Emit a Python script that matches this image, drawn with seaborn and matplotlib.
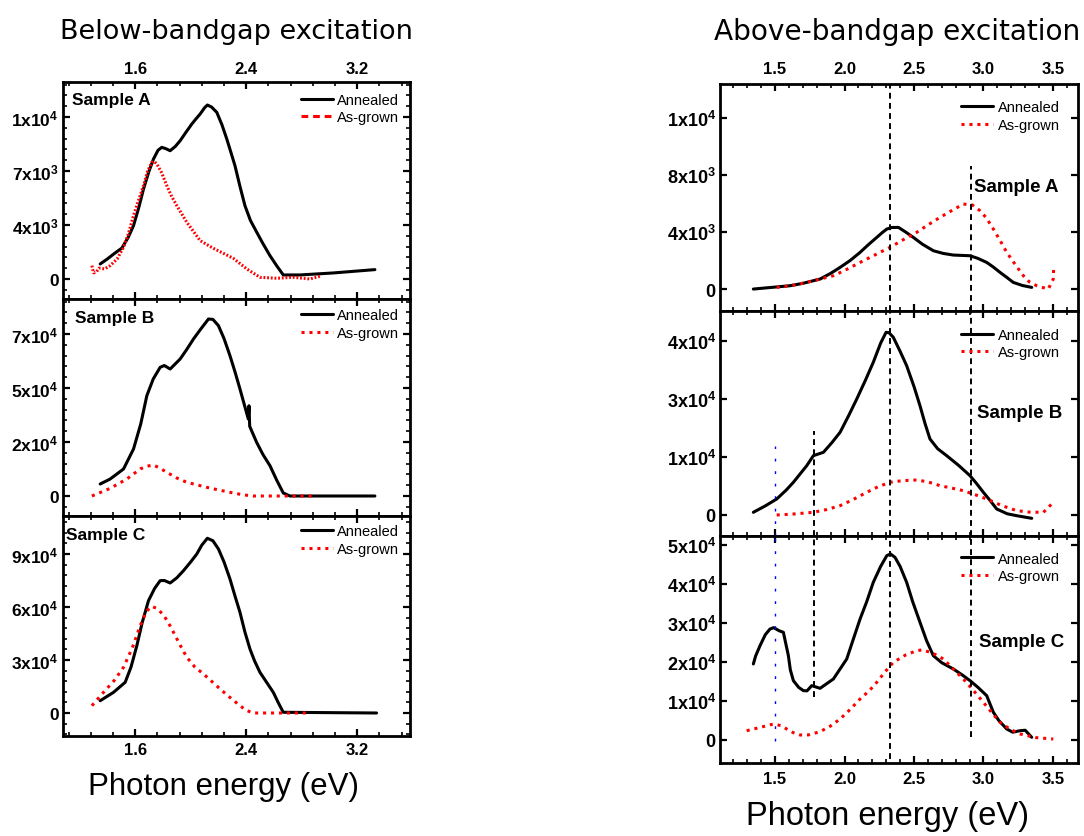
import matplotlib
matplotlib.use('Agg')
import matplotlib.pyplot as plt
import seaborn as sns
from matplotlib.lines import Line2D
from matplotlib.ticker import MultipleLocator, FixedLocator, FixedFormatter, AutoMinorLocator

# ---------------- data ----------------
# Below-bandgap excitation
below_A_ann_x = [1.348, 1.40, 1.45, 1.504, 1.55, 1.588, 1.625, 1.660, 1.70, 1.732, 1.765, 1.792, 1.82, 1.852, 1.89, 1.924, 1.965, 2.008, 2.04, 2.068, 2.10, 2.120, 2.15, 2.188, 2.225, 2.260, 2.29, 2.319, 2.355, 2.391, 2.43, 2.476, 2.52, 2.571, 2.62, 2.667, 2.787, 3.027, 3.327]
below_A_ann_y = [972, 1300, 1650, 2000, 2700, 3456, 4600, 5833, 7000, 7778, 8350, 8533, 8450, 8315, 8600, 8963, 9500, 10046, 10400, 10694, 11100, 11278, 11150, 10802, 10000, 9074, 8200, 7343, 6000, 4750, 3800, 3025, 2300, 1512, 850, 259, 259, 389, 605]
below_A_grw_x = [1.288, 1.300, 1.319, 1.340, 1.380, 1.420, 1.470, 1.516, 1.55, 1.588, 1.62, 1.660, 1.69, 1.720, 1.74, 1.756, 1.79, 1.828, 1.86, 1.900, 1.972, 2.068, 2.163, 2.307, 2.404, 2.499, 2.619, 2.739, 2.859, 2.931]
below_A_grw_y = [864, 400, 432, 700, 650, 864, 1300, 2052, 2900, 4104, 5000, 6050, 7000, 7560, 7600, 7452, 6900, 6050, 5400, 4752, 3672, 2484, 1987, 1339, 648, 108, 43, 108, 0, 173]

below_B_ann_x = [1.348, 1.420, 1.516, 1.588, 1.64, 1.684, 1.73, 1.780, 1.81, 1.852, 1.924, 1.97, 2.020, 2.07, 2.128, 2.16, 2.200, 2.24, 2.283, 2.32, 2.355, 2.415, 2.420, 2.425, 2.475, 2.52, 2.571, 2.62, 2.667, 2.715, 3.327]
below_B_ann_y = [5333, 7556, 12000, 20889, 32000, 44580, 52000, 57200, 58000, 56440, 60890, 65000, 69780, 74000, 78670, 78500, 75700, 70000, 62360, 55000, 47560, 34220, 40130, 31000, 23850, 18500, 13480, 7000, 1333, 0, 0]
below_B_grw_x = [1.288, 1.420, 1.540, 1.636, 1.68, 1.732, 1.78, 1.828, 1.90, 1.972, 2.116, 2.20, 2.307, 2.38, 2.451, 2.871]
below_B_grw_y = [0, 3400, 7556, 12000, 13200, 13780, 12300, 10520, 8000, 6080, 3850, 2700, 1333, 500, 0, 0]

below_C_ann_x = [1.348, 1.444, 1.528, 1.57, 1.612, 1.65, 1.696, 1.74, 1.780, 1.81, 1.852, 1.90, 1.948, 2.00, 2.044, 2.08, 2.120, 2.16, 2.200, 2.24, 2.283, 2.32, 2.355, 2.39, 2.427, 2.46, 2.499, 2.55, 2.595, 2.63, 2.667, 3.339]
below_C_ann_y = [6960, 11700, 17380, 26000, 38100, 51000, 63600, 70500, 74900, 75000, 73580, 76500, 80550, 85500, 90000, 95000, 98900, 97500, 92830, 85500, 75850, 66000, 57000, 46000, 36230, 29500, 23020, 17000, 11700, 6000, 400, 0]
below_C_grw_x = [1.288, 1.372, 1.45, 1.516, 1.58, 1.636, 1.68, 1.720, 1.76, 1.804, 1.84, 1.876, 1.92, 1.972, 2.03, 2.092, 2.15, 2.212, 2.28, 2.355, 2.40, 2.451, 2.859]
below_C_grw_y = [4130, 11700, 18500, 25870, 37000, 49400, 57500, 60380, 59000, 55470, 51000, 45660, 39000, 31530, 26000, 22080, 18000, 13580, 9000, 4150, 1500, 0, 0]

# Above-bandgap excitation
above_A_ann_x = [1.344, 1.608, 1.70, 1.824, 1.90, 1.968, 2.04, 2.112, 2.17, 2.232, 2.27, 2.304, 2.34, 2.388, 2.44, 2.495, 2.56, 2.639, 2.71, 2.783, 2.903, 2.96, 3.023, 3.07, 3.119, 3.17, 3.214, 3.28, 3.347]
above_A_ann_y = [0, 234, 400, 702, 1100, 1520, 2000, 2574, 3100, 3626, 3950, 4210, 4320, 4327, 4000, 3626, 3150, 2690, 2500, 2386, 2338, 2150, 1870, 1550, 1170, 800, 468, 250, 117]
above_A_grw_x = [1.512, 1.62, 1.728, 1.920, 2.02, 2.112, 2.22, 2.327, 2.42, 2.519, 2.60, 2.687, 2.77, 2.855, 2.92, 2.975, 3.02, 3.071, 3.12, 3.167, 3.23, 3.287, 3.33, 3.383, 3.43, 3.466, 3.502, 3.505]
above_A_grw_y = [117, 250, 468, 936, 1400, 1870, 2400, 2924, 3450, 3977, 4500, 5030, 5500, 5965, 5900, 5497, 5000, 4210, 3400, 2574, 1700, 936, 500, 234, 100, 0, 702, 1520]

above_B_ann_x = [1.344, 1.43, 1.512, 1.58, 1.632, 1.728, 1.776, 1.848, 1.91, 1.968, 2.03, 2.088, 2.15, 2.207, 2.26, 2.299, 2.32, 2.351, 2.40, 2.447, 2.50, 2.543, 2.58, 2.615, 2.67, 2.735, 2.82, 2.903, 2.95, 2.999, 3.05, 3.095, 3.17, 3.239, 3.347]
above_B_ann_y = [650, 2200, 3860, 6000, 7890, 11900, 14320, 15130, 17500, 19960, 24000, 28000, 32500, 36860, 41500, 44100, 44000, 42900, 39500, 36040, 31000, 26380, 22000, 18340, 16000, 14320, 12000, 9490, 7600, 5480, 3400, 1450, 300, -170, -800]
above_B_grw_x = [1.512, 1.62, 1.776, 1.87, 1.968, 2.06, 2.160, 2.24, 2.327, 2.42, 2.519, 2.60, 2.687, 2.77, 2.855, 2.94, 3.023, 3.13, 3.239, 3.33, 3.431, 3.491]
above_B_grw_y = [0, 200, 650, 1300, 2250, 3700, 5480, 6800, 7890, 8300, 8450, 8000, 7080, 6500, 5870, 4900, 3860, 2300, 1040, 700, 650, 2660]

above_C_ann_x = [1.344, 1.36, 1.392, 1.43, 1.464, 1.49, 1.53, 1.560, 1.596, 1.61, 1.632, 1.67, 1.704, 1.73, 1.764, 1.824, 1.920, 2.016, 2.06, 2.112, 2.16, 2.207, 2.26, 2.304, 2.33, 2.363, 2.40, 2.447, 2.49, 2.543, 2.59, 2.639, 2.70, 2.783, 2.85, 2.903, 2.96, 3.023, 3.071, 3.11, 3.167, 3.21, 3.263, 3.30, 3.347]
above_C_ann_y = [19490, 21500, 24180, 27000, 28460, 28800, 28000, 27610, 21620, 18000, 15210, 13500, 12650, 12600, 13930, 13250, 15640, 20770, 25500, 31030, 35500, 40430, 44500, 47260, 47700, 46840, 44500, 40430, 35500, 30180, 25500, 21620, 19800, 18200, 16600, 15210, 13500, 11360, 7100, 5000, 2820, 2000, 2380, 2500, 690]
above_C_grw_x = [1.296, 1.39, 1.488, 1.54, 1.584, 1.63, 1.680, 1.74, 1.824, 1.90, 1.968, 2.04, 2.112, 2.18, 2.232, 2.29, 2.351, 2.44, 2.519, 2.56, 2.615, 2.66, 2.711, 2.78, 2.855, 2.93, 2.999, 3.06, 3.119, 3.19, 3.263, 3.38, 3.502]
above_C_grw_y = [2380, 3200, 4100, 3700, 2820, 1900, 1280, 1300, 2130, 3600, 5380, 7800, 10510, 12700, 14790, 17400, 19920, 21800, 22900, 23100, 22480, 21800, 20770, 18300, 15640, 12600, 9660, 7000, 4530, 2800, 1540, 600, 250]

# tick values and labels
below_xticks = [1.6, 2.4, 3.2]
above_xticks = [1.5, 2.0, 2.5, 3.0, 3.5]
below_A_yticks = [0, 3500, 7000, 10500]
below_A_ylabels = ['0', '4x10$^{3}$', '7x10$^{3}$', '1x10$^{4}$']
below_B_yticks = [0, 24000, 48000, 72000]
below_B_ylabels = ['0', '2x10$^{4}$', '5x10$^{4}$', '7x10$^{4}$']
below_C_yticks = [0, 30000, 60000, 90000]
below_C_ylabels = ['0', '3x10$^{4}$', '6x10$^{4}$', '9x10$^{4}$']
above_A_yticks = [0, 4000, 8000, 12000]
above_A_ylabels = ['0', '4x10$^{3}$', '8x10$^{3}$', '1x10$^{4}$']
above_B_yticks = [0, 14000, 28000, 42000]
above_B_ylabels = ['0', '1x10$^{4}$', '3x10$^{4}$', '4x10$^{4}$']
above_C_yticks = [0, 10000, 20000, 30000, 40000, 50000]
above_C_ylabels = ['0', '1x10$^{4}$', '2x10$^{4}$', '3x10$^{4}$', '4x10$^{4}$', '5x10$^{4}$']

samples = ['Sample A', 'Sample B', 'Sample C']
series_names = ['Annealed', 'As-grown']

# reference energies (eV) marked by vertical lines in the above-bandgap panels
ref_black = [2.33, 2.91, 1.78]
ref_blue = 1.5
# vertical extents (data units) per panel: (A, B, C); None = full height, False = absent
ref_black_span = {
    2.33: [None, None, (-4900, None)],
    2.91: [(None, 8630), None, (700, None)],
    1.78: [False, (None, 20280), (11030, None)],
}
ref_blue_span = [False, (None, 16650), (-250, None)]

# ---------------- style ----------------
sns.set_theme(style='white')
plt.rcParams['font.family'] = ['Liberation Sans', 'DejaVu Sans']
plt.rcParams['mathtext.fontset'] = 'custom'
plt.rcParams['mathtext.rm'] = 'Liberation Sans:bold'
plt.rcParams['mathtext.bf'] = 'Liberation Sans:bold'
plt.rcParams['mathtext.default'] = 'bf'
for k in ['text.color', 'axes.labelcolor', 'xtick.color', 'ytick.color', 'axes.edgecolor']:
    plt.rcParams[k] = 'black'

RED = '#ff0000'
DOT = (0, (1, 1.6))
W, H = 1084, 837
fig = plt.figure(figsize=(W / 100, H / 100), dpi=100)


def rect(x0, x1, y0, y1):
    return [x0 / W, 1 - y1 / H, (x1 - x0) / W, (y1 - y0) / H]


left_rects = [rect(63, 410, 83, 300), rect(63, 410, 300, 517), rect(63, 410, 517, 737)]
right_rects = [rect(720, 1078, 85, 312), rect(720, 1078, 312, 537), rect(720, 1078, 537, 764)]


def style_axes(ax, xlim, ylim, xticks, xminor, yticks, ylabels, yminor_n, pos, ysize, xpad):
    ax.set_xlim(*xlim)
    ax.set_ylim(*ylim)
    ax.set_facecolor('white')
    for s in ax.spines.values():
        s.set_visible(True)
        s.set_color('black')
        s.set_linewidth(2.0)
    ax.xaxis.set_major_locator(FixedLocator(xticks))
    ax.xaxis.set_major_formatter(FixedFormatter([f'{t:.1f}' for t in xticks]))
    ax.xaxis.set_minor_locator(MultipleLocator(xminor))
    ax.yaxis.set_major_locator(FixedLocator(yticks))
    ax.yaxis.set_major_formatter(FixedFormatter(ylabels))
    if yminor_n:
        ax.yaxis.set_minor_locator(AutoMinorLocator(yminor_n))
    ax.tick_params(which='both', direction='in', top=True, right=True, bottom=True, left=True,
                   colors='black')
    ax.tick_params(which='major', length=5, width=1.6)
    ax.tick_params(which='minor', length=3, width=1.2)
    ax.tick_params(axis='y', labelsize=ysize, pad=3)
    ax.tick_params(axis='x', labelsize=12, pad=xpad,
                   labeltop=(pos == 0), labelbottom=(pos == 2))
    for lab in ax.get_xticklabels() + ax.get_yticklabels():
        lab.set_fontweight('bold')
    ax.set_xlabel('')
    ax.set_ylabel('')


def draw_pair(ax, xa, ya, xg, yg, grw_style, grw_lw):
    sns.lineplot(x=xa, y=ya, ax=ax, color='black', lw=2.2, sort=False, estimator=None)
    sns.lineplot(x=xg, y=yg, ax=ax, color=RED, lw=grw_lw, sort=False, estimator=None,
                 linestyle=grw_style)


def add_legend(ax, leg_style, bbox):
    handles = [Line2D([], [], color='black', lw=2.2),
               Line2D([], [], color=RED, lw=2.2, linestyle=leg_style)]
    ax.legend(handles, series_names, loc='upper right', bbox_to_anchor=bbox, frameon=False,
              fontsize=10.5, handlelength=2.2, handletextpad=0.3, labelspacing=0.25,
              borderpad=0.2, borderaxespad=0.2)


# ---------------- left (below-bandgap) ----------------
below_data = [
    (below_A_ann_x, below_A_ann_y, below_A_grw_x, below_A_grw_y, below_A_yticks, below_A_ylabels, (-1300, 12770)),
    (below_B_ann_x, below_B_ann_y, below_B_grw_x, below_B_grw_y, below_B_yticks, below_B_ylabels, (-8890, 87560)),
    (below_C_ann_x, below_C_ann_y, below_C_grw_x, below_C_grw_y, below_C_yticks, below_C_ylabels, (-13020, 111500)),
]
left_label_pos = [(0.025, 0.92), (0.035, 0.917), (0.01, 0.914)]
left_leg_anchor = [(0.985, 0.978), (0.985, 0.985), (0.985, 0.99)]
for i, (xa, ya, xg, yg, yt, yl, ylim) in enumerate(below_data):
    ax = fig.add_axes(left_rects[i])
    if i == 0:
        draw_pair(ax, xa, ya, xg, yg, (0, (0.6, 0.6)), 2.2)
        add_legend(ax, (0, (2.2, 1.6)), left_leg_anchor[i])
    else:
        draw_pair(ax, xa, ya, xg, yg, DOT, 2.2)
        add_legend(ax, DOT, left_leg_anchor[i])
    style_axes(ax, (1.08, 3.58), ylim, below_xticks, 0.16, yt, yl, 5, i, 12.5, 4.5)
    ax.text(left_label_pos[i][0], left_label_pos[i][1], samples[i], transform=ax.transAxes,
            fontsize=12.5, fontweight='bold', ha='left', va='center')

# ---------------- right (above-bandgap) ----------------
above_data = [
    (above_A_ann_x, above_A_ann_y, above_A_grw_x, above_A_grw_y, above_A_yticks, above_A_ylabels, (-1540, 14390)),
    (above_B_ann_x, above_B_ann_y, above_B_grw_x, above_B_grw_y, above_B_yticks, above_B_ylabels, (-5070, 49240)),
    (above_C_ann_x, above_C_ann_y, above_C_grw_x, above_C_grw_y, above_C_yticks, above_C_ylabels, (-5900, 52300)),
]
right_label_pos = [(0.71, 0.55), (0.717, 0.547), (0.723, 0.537)]
right_leg_anchor = [(0.965, 0.955), (0.965, 0.952), (0.965, 0.957)]
for i, (xa, ya, xg, yg, yt, yl, ylim) in enumerate(above_data):
    ax = fig.add_axes(right_rects[i])
    draw_pair(ax, xa, ya, xg, yg, DOT, 2.2)
    add_legend(ax, DOT, right_leg_anchor[i])
    style_axes(ax, (1.104, 3.68), ylim, above_xticks, 0.1, yt, yl, None, i, 13, 6)
    ax.text(right_label_pos[i][0], right_label_pos[i][1], samples[i], transform=ax.transAxes,
            fontsize=13.5, fontweight='bold', ha='left', va='center')
    # reference lines
    for e in ref_black:
        span = ref_black_span[e][i]
        if span is False:
            continue
        if span is None:
            lo, hi = ylim
        else:
            lo = span[0] if span[0] is not None else ylim[0]
            hi = span[1] if span[1] is not None else ylim[1]
        ax.vlines(e, lo, hi, colors='black', lw=1.4, linestyles=(0, (3, 2.2)), zorder=3)
    span = ref_blue_span[i]
    if span is not False:
        lo = span[0] if span[0] is not None else ylim[0]
        hi = span[1] if span[1] is not None else ylim[1]
        ax.vlines(ref_blue, lo, hi, colors='#0000ff', lw=1.0, linestyles=(0, (2, 7)), zorder=3)

# ---------------- titles / axis labels ----------------
title_font = ['DejaVu Sans']
fig.text(236 / W, 1 - 32 / H, 'Below-bandgap excitation', ha='center', va='center',
         fontsize=19.5, family=title_font)
fig.text(1080 / W, 1 - 32 / H, 'Above-bandgap excitation', ha='right', va='center',
         fontsize=20.2, family=title_font)
fig.text(224 / W, 1 - 787 / H, 'Photon energy (eV)', ha='center', va='center', fontsize=22.5)
fig.text(887 / W, 1 - 817 / H, 'Photon energy (eV)', ha='center', va='center', fontsize=23.5)

fig.savefig('out.png', dpi=100, facecolor='white')
